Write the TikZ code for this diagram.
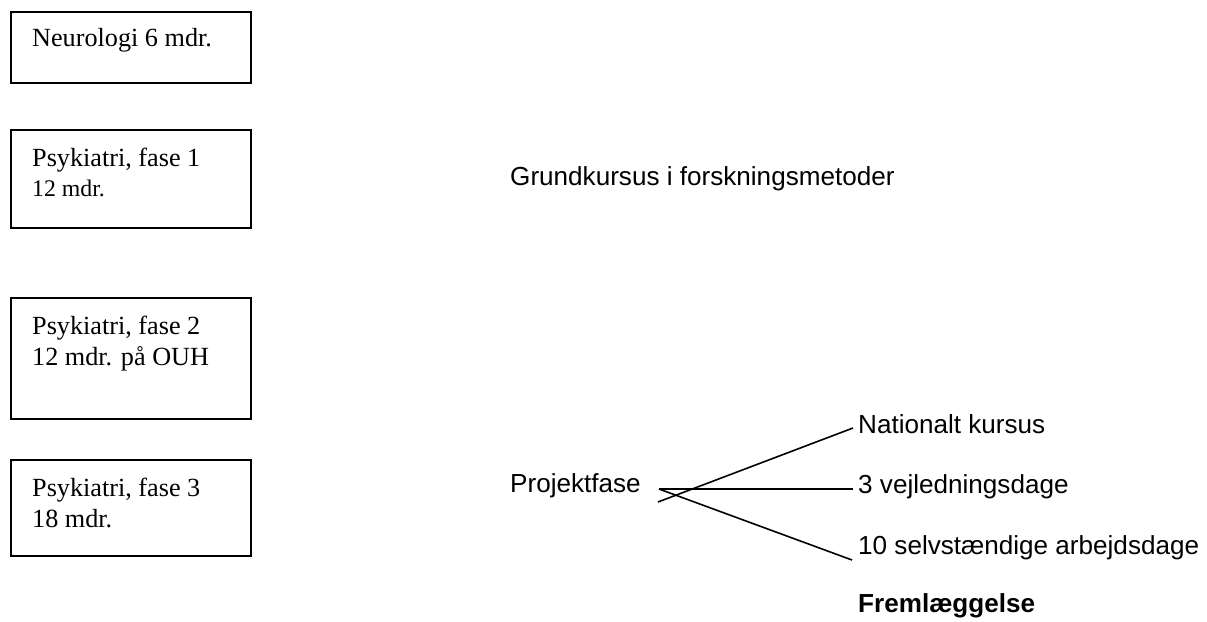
\documentclass[tikz,border=0pt]{standalone}
\usepackage{fontspec}
\setmainfont{Liberation Serif}
\newfontfamily\arialf{Liberation Sans}
\begin{document}
\begin{tikzpicture}[x=1pt,y=-1pt,
  box/.style={draw=black,line width=2pt,rectangle,inner sep=0pt,minimum width=240pt},
  btext/.style={anchor=base west,inner sep=0pt,align=left,font=\fontsize{26.2}{31}\selectfont},
  small/.style={font=\fontsize{23.8}{29}\selectfont},
  rtext/.style={anchor=base west,inner sep=0pt,font=\arialf\fontsize{26.1}{31}\selectfont},
  conn/.style={draw=black,line width=1.6pt}]
\useasboundingbox (0,0) rectangle (1207,621);
% boxes
\node[box,minimum height=71pt] (b1) at (131,47.5) {};
\node[box,minimum height=98pt] (b2) at (131,179) {};
\node[box,minimum height=121pt] (b3) at (131,358.5) {};
\node[box,minimum height=96pt] (b4) at (131,508) {};
\node[btext] (t1) at (32,46.7) {Neurologi 6 mdr.};
\node[btext] (t2a) at (32,166.7) {Psykiatri, fase 1};
\node[btext,small] (t2b) at (32,196) {12 mdr.};
\node[btext] (t3) at (32,365) {Psykiatri, fase 2\\12 mdr. på OUH};
\node[btext] (t4) at (32,527) {Psykiatri, fase 3\\18 mdr.};
% right side
\node[rtext] (gk) at (510,185) {Grundkursus i forskningsmetoder};
\node[rtext] (pf) at (510,492) {Projektfase};
\node[rtext] (nk) at (858,433) {Nationalt kursus};
\node[rtext] (vd) at (858,493) {3 vejledningsdage};
\node[rtext] (sa) at (858,554) {10 selvstændige arbejdsdage};
\node[rtext,font=\arialf\bfseries\fontsize{26.1}{31}\selectfont] (fl) at (858,612) {Fremlæggelse};
% connectors
\coordinate (s1) at (659,489);
\coordinate (s2) at (658,502);
\coordinate (e1) at (853,428);
\coordinate (e2) at (853,489);
\coordinate (e3) at (852,560);
\draw[conn] (s1) -- (e2);
\draw[conn] (s2) -- (e1);
\draw[conn] (s1) -- (e3);
\end{tikzpicture}
\end{document}
